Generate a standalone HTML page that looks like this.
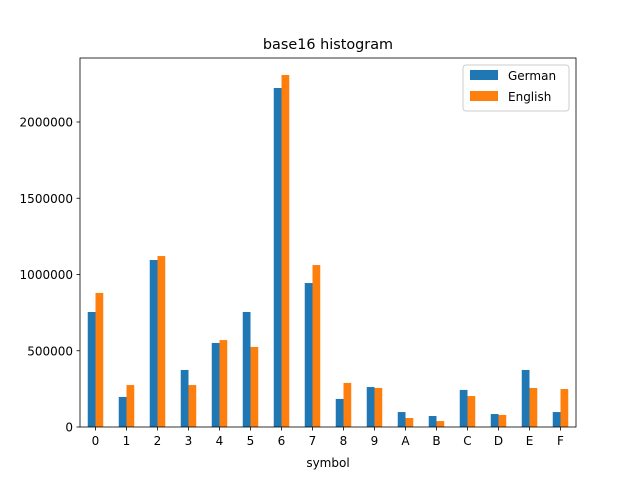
<!DOCTYPE html>
<html><head><meta charset="utf-8"><style>
body{margin:0;background:#fff;}
svg{display:block;font-family:"DejaVu Sans","Liberation Sans",sans-serif;}
</style></head><body>
<svg id="chart" width="640" height="480">
<rect x="0" y="0" width="640" height="480" fill="#fff"/>
<text x="328" y="49" font-size="14.4" text-anchor="middle">base16 histogram</text>
<g id="bars"></g>
<g id="axes"></g>
</svg>
<script>
const categories = ["0","1","2","3","4","5","6","7","8","9","A","B","C","D","E","F"];
const german = [754000,197000,1095000,374000,551000,754000,2223000,944000,184000,262000,98000,72000,243000,85000,374000,98000];
const english = [879000,275000,1121000,275000,570000,525000,2308000,1062000,289000,256000,59000,39000,203000,79000,256000,249000];
const yTicks = [0,500000,1000000,1500000,2000000];
const yTickLabels = ["0","500000","1000000","1500000","2000000"];
const seriesNames = ["German","English"];
const colors = ["#1f77b4","#ff7f0e"];

const L=80,R=576,T=58,B=427;
const ns="http://www.w3.org/2000/svg";
const step=(R-L)/categories.length;
function xScale(i){return L+step*(i+0.5);}
function yScale(v){return B-v*(305/2000000);}
function mk(tag,attrs,parent){const e=document.createElementNS(ns,tag);for(const k in attrs)e.setAttribute(k,attrs[k]);parent.appendChild(e);return e;}
const bars=document.getElementById('bars');
const axes=document.getElementById('axes');
const bw=step*0.25;
[german,english].forEach((s,si)=>{
  s.forEach((v,i)=>{
    const x=xScale(i)+(si===0?-bw:0);
    const r=mk('rect',{x:x,y:yScale(v),width:bw,height:B-yScale(v),fill:colors[si]},bars);
    
    
  });
});
const frame=mk('rect',{x:L,y:T,width:R-L,height:B-T,fill:'none',stroke:'#000','stroke-width':0.8},axes);


categories.forEach((c,i)=>{
  const x=xScale(i);
  mk('line',{x1:x,x2:x,y1:B,y2:B+3.5,stroke:'#000','stroke-width':0.8},axes);
  const t=mk('text',{x:x,y:B+18,'font-size':12,'text-anchor':'middle'},axes);
  t.textContent=c;
  
  
});
yTicks.forEach((v,i)=>{
  const y=yScale(v);
  mk('line',{x1:L-3.5,x2:L,y1:y,y2:y,stroke:'#000','stroke-width':0.8},axes);
  const t=mk('text',{x:L-7,y:y+4.5,'font-size':12,'text-anchor':'end'},axes);
  t.textContent=yTickLabels[i];
  
  
});
const xt=mk('text',{x:328,y:467,'font-size':12,'text-anchor':'middle'},axes);
xt.textContent='symbol';


const lg=mk('g',{},axes);


mk('rect',{x:463,y:65,width:106,height:46,fill:'#fff',stroke:'#ccc',rx:3},lg);
seriesNames.forEach((n,i)=>{
  mk('rect',{x:470,y:70+i*21,width:28,height:10,fill:colors[i]},lg);
  const t=mk('text',{x:508,y:80+i*21,'font-size':12},lg);
  t.textContent=n;
  
  
});
</script>
</body></html>
